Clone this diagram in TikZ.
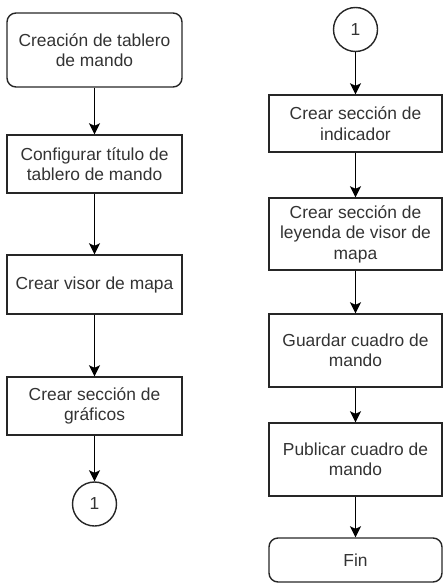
\documentclass[tikz,border=0pt]{standalone}
\usepackage{fontspec}
\setmainfont{Liberation Sans}
\usetikzlibrary{arrows.meta}
\begin{document}
\begin{tikzpicture}[x=1pt,y=-1pt,
  every node/.style={font=\fontsize{17.4}{20.5}\selectfont, text=black!80, align=center, inner sep=0pt},
  box/.style={draw=black!85, line width=1.4pt, rectangle},
  rbox/.style={box, rounded corners=9pt},
  conn/.style={draw=black!85, line width=1.4pt, fill=black!85, shape=circle},
  flow/.style={draw=black, line width=1.4pt, -{Stealth[length=11pt,width=11pt,inset=2.5pt]}}
]
\useasboundingbox (0,0) rectangle (443,583);
% left column
\node[rbox, minimum width=175pt, minimum height=74pt] (a) at (94.5,50) {Creación de tablero\\de mando};
\node[box, minimum width=175pt, minimum height=58pt] (b) at (94.5,164) {Configurar título de\\tablero de mando};
\node[box, minimum width=175pt, minimum height=59pt] (c) at (94.5,284.5) {Crear visor de mapa};
\node[box, minimum width=175pt, minimum height=58pt] (d) at (94.5,406) {Crear sección de\\gráficos};
\node[draw=black!85, line width=1.4pt, circle, minimum size=44pt] (e) at (94.5,504) {1};
% right column
\node[draw=black!85, line width=1.4pt, circle, minimum size=44pt] (f) at (355.5,29.5) {1};
\node[box, minimum width=173pt, minimum height=57pt] (g) at (355.5,123.5) {Crear sección de\\indicador};
\node[box, minimum width=173pt, minimum height=72pt] (h) at (355.5,234) {Crear sección de\\leyenda de visor de\\mapa};
\node[box, minimum width=173pt, minimum height=73pt] (i) at (355.5,350.5) {Guardar cuadro de\\mando};
\node[box, minimum width=173pt, minimum height=73pt] (j) at (355.5,459.5) {Publicar cuadro de\\mando};
\node[rbox, minimum width=173pt, minimum height=44pt] (k) at (355.5,560) {Fin};
% connectors
\draw[flow] (a) -- (b);
\draw[flow] (b) -- (c);
\draw[flow] (c) -- (d);
\draw[flow] (d) -- (e);
\draw[flow] (f) -- (g);
\draw[flow] (g) -- (h);
\draw[flow] (h) -- (i);
\draw[flow] (i) -- (j);
\draw[flow] (j) -- (k);
\end{tikzpicture}
\end{document}
